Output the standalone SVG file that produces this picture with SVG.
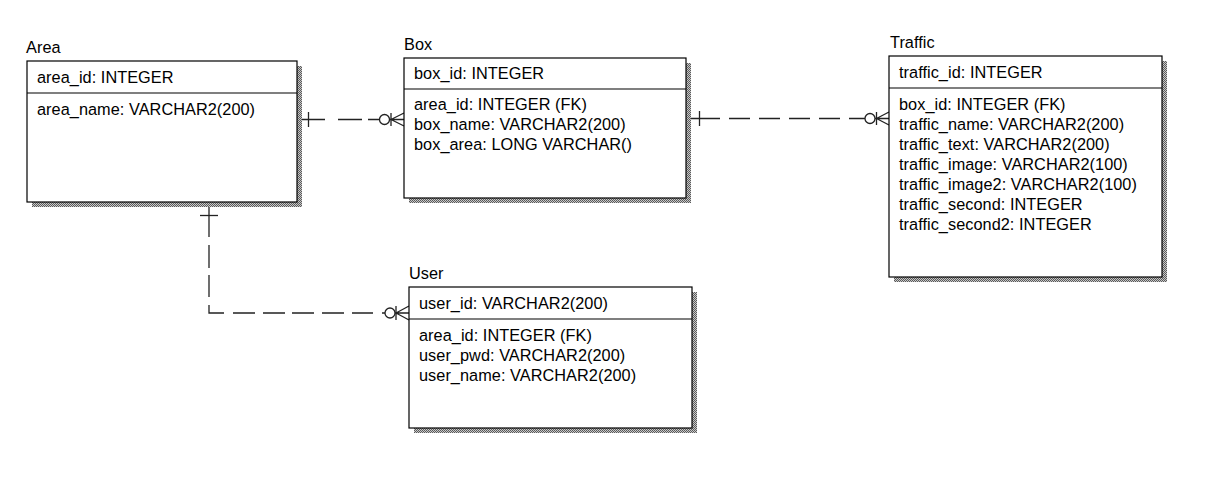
<svg xmlns="http://www.w3.org/2000/svg" width="1210" height="478" viewBox="0 0 1210 478">
<defs>
<pattern id="dither" width="2" height="2" patternUnits="userSpaceOnUse">
<rect width="2" height="2" fill="#c8c8c8"/>
<rect width="1" height="1" fill="#5a5a5a"/>
<rect x="1" y="1" width="1" height="1" fill="#5a5a5a"/>
</pattern>
</defs>
<style>
text{font-family:"Liberation Sans",Arial,sans-serif;font-size:16.3px;letter-spacing:0.05px;fill:#000}
.shadow{fill:url(#dither)}
.ent{fill:#fff;stroke:#000;stroke-width:1.2}
.div{stroke:#000;stroke-width:1.2}
.conn{fill:none;stroke:#222;stroke-width:1.3}
.circ{fill:#fff;stroke:#222;stroke-width:1.3}
</style>
<rect width="1210" height="478" fill="#fff"/>

<g id="connectors">
<!-- Area to Box -->
<path class="conn" d="M297 119.5H325M338 119.5H362M368 119.5H379.5"/>
<path class="conn" d="M308.5 112V127"/>
<circle class="circ" cx="384.5" cy="119.5" r="5"/>
<path class="conn" d="M389.5 119.5H404M391 113V126M391 119.5L404 113M391 119.5L404 126"/>
<!-- Box to Traffic -->
<path class="conn" d="M691 118.5H720M729 118.5H750M759 118.5H780M789 118.5H810M819 118.5H840M849 118.5H865"/>
<path class="conn" d="M699.5 111V126"/>
<circle class="circ" cx="870" cy="118.5" r="5"/>
<path class="conn" d="M875 118.5H889M876.5 112V125M876.5 118.5L889 112M876.5 118.5L889 125"/>
<!-- Area to User -->
<path class="conn" d="M209 207V237M209 245V268M209 275V297M209 305V313H224M233 313H255M263 313H285M292 313H314M322 313H344M352 313H373M382 313H385"/>
<path class="conn" d="M200 215.5H218"/>
<circle class="circ" cx="390" cy="313" r="5"/>
<path class="conn" d="M395 313H409M396 306V320M396 313L409 306M396 313L409 320"/>
</g>

<g id="area">
<text x="26" y="53">Area</text>
<rect class="shadow" x="32" y="66" width="270" height="141"/>
<rect class="ent" x="27" y="61" width="270" height="141"/>
<path class="div" d="M27 93H297"/>
<text x="37" y="83">area_id: INTEGER</text>
<text x="37" y="115">area_name: VARCHAR2(200)</text>
</g>

<g id="box">
<text x="404" y="50">Box</text>
<rect class="shadow" x="409" y="63" width="282" height="140"/>
<rect class="ent" x="404" y="58" width="282" height="140"/>
<path class="div" d="M404 89H686"/>
<text x="414" y="79">box_id: INTEGER</text>
<text x="414" y="110">area_id: INTEGER (FK)</text>
<text x="414" y="130">box_name: VARCHAR2(200)</text>
<text x="414" y="150">box_area: LONG VARCHAR()</text>
</g>

<g id="traffic">
<text x="890" y="48">Traffic</text>
<rect class="shadow" x="894" y="61" width="273" height="221"/>
<rect class="ent" x="889" y="56" width="273" height="221"/>
<path class="div" d="M889 88H1162"/>
<text x="899" y="78">traffic_id: INTEGER</text>
<text x="899" y="110">box_id: INTEGER (FK)</text>
<text x="899" y="130">traffic_name: VARCHAR2(200)</text>
<text x="899" y="150">traffic_text: VARCHAR2(200)</text>
<text x="899" y="170">traffic_image: VARCHAR2(100)</text>
<text x="899" y="190">traffic_image2: VARCHAR2(100)</text>
<text x="899" y="210">traffic_second: INTEGER</text>
<text x="899" y="230">traffic_second2: INTEGER</text>
</g>

<g id="user">
<text x="409" y="279">User</text>
<rect class="shadow" x="414" y="292" width="283" height="141"/>
<rect class="ent" x="409" y="287" width="283" height="141"/>
<path class="div" d="M409 319H692"/>
<text x="419" y="309">user_id: VARCHAR2(200)</text>
<text x="419" y="341">area_id: INTEGER (FK)</text>
<text x="419" y="361">user_pwd: VARCHAR2(200)</text>
<text x="419" y="381">user_name: VARCHAR2(200)</text>
</g>
</svg>
